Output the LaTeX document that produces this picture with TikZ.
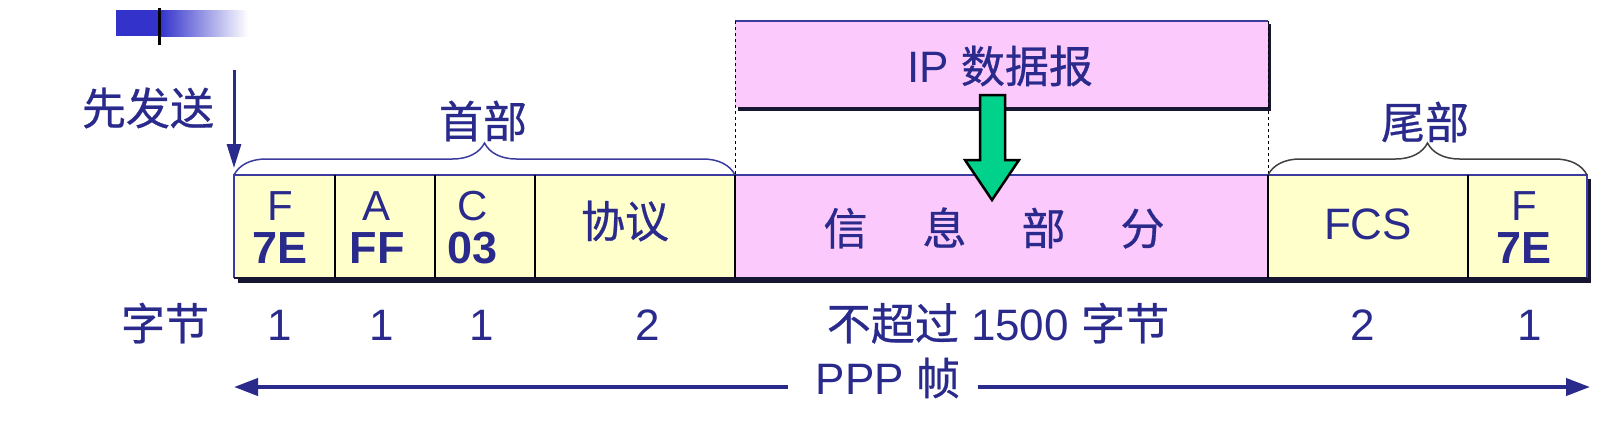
\documentclass[tikz,border=0pt]{standalone}
\usepackage{fontspec}
\setmainfont{Liberation Sans}
\newfontfamily\cjk[FakeBold=0.6]{Noto Sans CJK SC}
\usetikzlibrary{decorations.pathreplacing, arrows.meta}
\definecolor{txt}{RGB}{42,42,140}
\definecolor{yel}{RGB}{255,255,204}
\definecolor{pnk}{RGB}{251,201,251}
\definecolor{grn}{RGB}{0,210,140}
\definecolor{frm}{RGB}{60,60,160}
\definecolor{shd}{RGB}{22,22,50}
\definecolor{blu}{RGB}{51,51,204}
\tikzset{
  cj/.style={text=txt, inner sep=0pt, font=\fontsize{44}{50}\selectfont\cjk},
  lat/.style={text=txt, inner sep=0pt, font=\fontsize{44}{50}\selectfont},
  small/.style={text=txt, inner sep=0pt, anchor=base, font=\fontsize{42}{46}\selectfont},
  val/.style={text=txt, inner sep=0pt, anchor=base, font=\fontsize{45}{50}\selectfont\bfseries},
  bot/.style={text=txt, inner sep=0pt, anchor=base, font=\fontsize{44}{50}\selectfont},
  bigarrow/.style={line width=4pt, draw=txt, -{Triangle[length=24pt,width=17pt]}},
  sendarrow/.style={line width=3pt, draw=txt, -{Triangle[length=24pt,width=14pt]}},
  bracestyle/.style={decorate, decoration={brace, amplitude=32pt}, line width=1.5pt},
}
\begin{document}
\begin{tikzpicture}[x=1pt,y=-1pt]
\useasboundingbox (0,0) rectangle (1623,442);
% decoration top-left
\fill[blu] (116,10) rectangle (160,36);
\shade[left color=blu, right color=white] (160,10) rectangle (248,36);
\draw[line width=3pt, black] (159,8) -- (159,45);

% IP datagram box
\fill[shd] (738,24) rectangle (1271,111);
\fill[pnk] (735,21) rectangle (1268,107);
\draw[frm, line width=1.5pt] (735,21) -- (1268,21);
\draw[black, dashed, line width=1pt] (735,21) -- (735,175);
\draw[black, dashed, line width=1pt] (1268,21) -- (1268,175);
\node[lat] (ip) at (1000,66) {IP {\cjk 数据报}};

% frame
\fill[shd] (238,179) rectangle (1591,283);
\fill[yel] (234,175) rectangle (735,278);
\fill[pnk] (735,175) rectangle (1268,278);
\fill[yel] (1268,175) rectangle (1587,278);
\draw[frm, line width=1.5pt] (234,278) -- (234,175) -- (1587,175) -- (1587,278);
\draw[shd, line width=1.5pt] (234,278) -- (1587,278);
\foreach \x in {335,435,535,735,1268,1468} \draw[black, line width=1.2pt] (\x,175) -- (\x,278);

% cell texts
\node[small] (f1) at (280,220) {F};
\node[val] (v1) at (280,263) {7E};
\node[small] (f2) at (377,220) {A};
\node[val] (v2) at (377,263) {FF};
\node[small] (f3) at (473,220) {C};
\node[val] (v3) at (473,263) {03};
\node[cj] (proto) at (625,221) {协议};
\node[cj] (info) at (994,228) {信\hspace{55pt}息\hspace{55pt}部\hspace{55pt}分};
\node[lat] (fcs) at (1368,224) {FCS};
\node[small] (f4) at (1524,220) {F};
\node[val] (v4) at (1524,263) {7E};

% braces
\coordinate (hL) at (234,175);
\coordinate (hR) at (735,175);
\coordinate (tL) at (1268,175);
\coordinate (tR) at (1587,175);
\draw[bracestyle, frm] (hL) -- (hR);
\draw[bracestyle, black!75] (tL) -- (tR);
\node[cj] (head) at (483,121) {首部};
\node[cj] (tail) at (1425,122) {尾部};

% send first
\node[cj] (send) at (148,108) {先发送};
\coordinate (sTop) at (234,70);
\coordinate (sBot) at (234,168);
\draw[sendarrow] (sTop) -- (sBot);

% green arrow
\filldraw[fill=grn, draw=black, line width=2.5pt]
  (980,95) -- (1005,95) -- (1005,160) -- (1019,160) -- (992,200) -- (965,160) -- (980,160) -- cycle;

% bottom row
\node[bot, font=\fontsize{44}{50}\selectfont\cjk] (bytes) at (165,340) {字节};
\node[bot] (n1) at (280,340) {1};
\node[bot] (n2) at (382,340) {1};
\node[bot] (n3) at (482,340) {1};
\node[bot] (n4) at (648,340) {2};
\node[bot] (n5) at (998,340) {{\cjk 不超过} 1500 {\cjk 字节}};
\node[bot] (n6) at (1363,340) {2};
\node[bot] (n7) at (1530,340) {1};

% PPP frame arrow
\node[lat] (ppp) at (888,378) {PPP {\cjk 帧}};
\coordinate (pl) at (788,387);
\coordinate (pr) at (978,387);
\coordinate (ppL) at (234,387);
\coordinate (ppR) at (1590,387);
\draw[bigarrow] (pl) -- (ppL);
\draw[bigarrow] (pr) -- (ppR);
\end{tikzpicture}
\end{document}
